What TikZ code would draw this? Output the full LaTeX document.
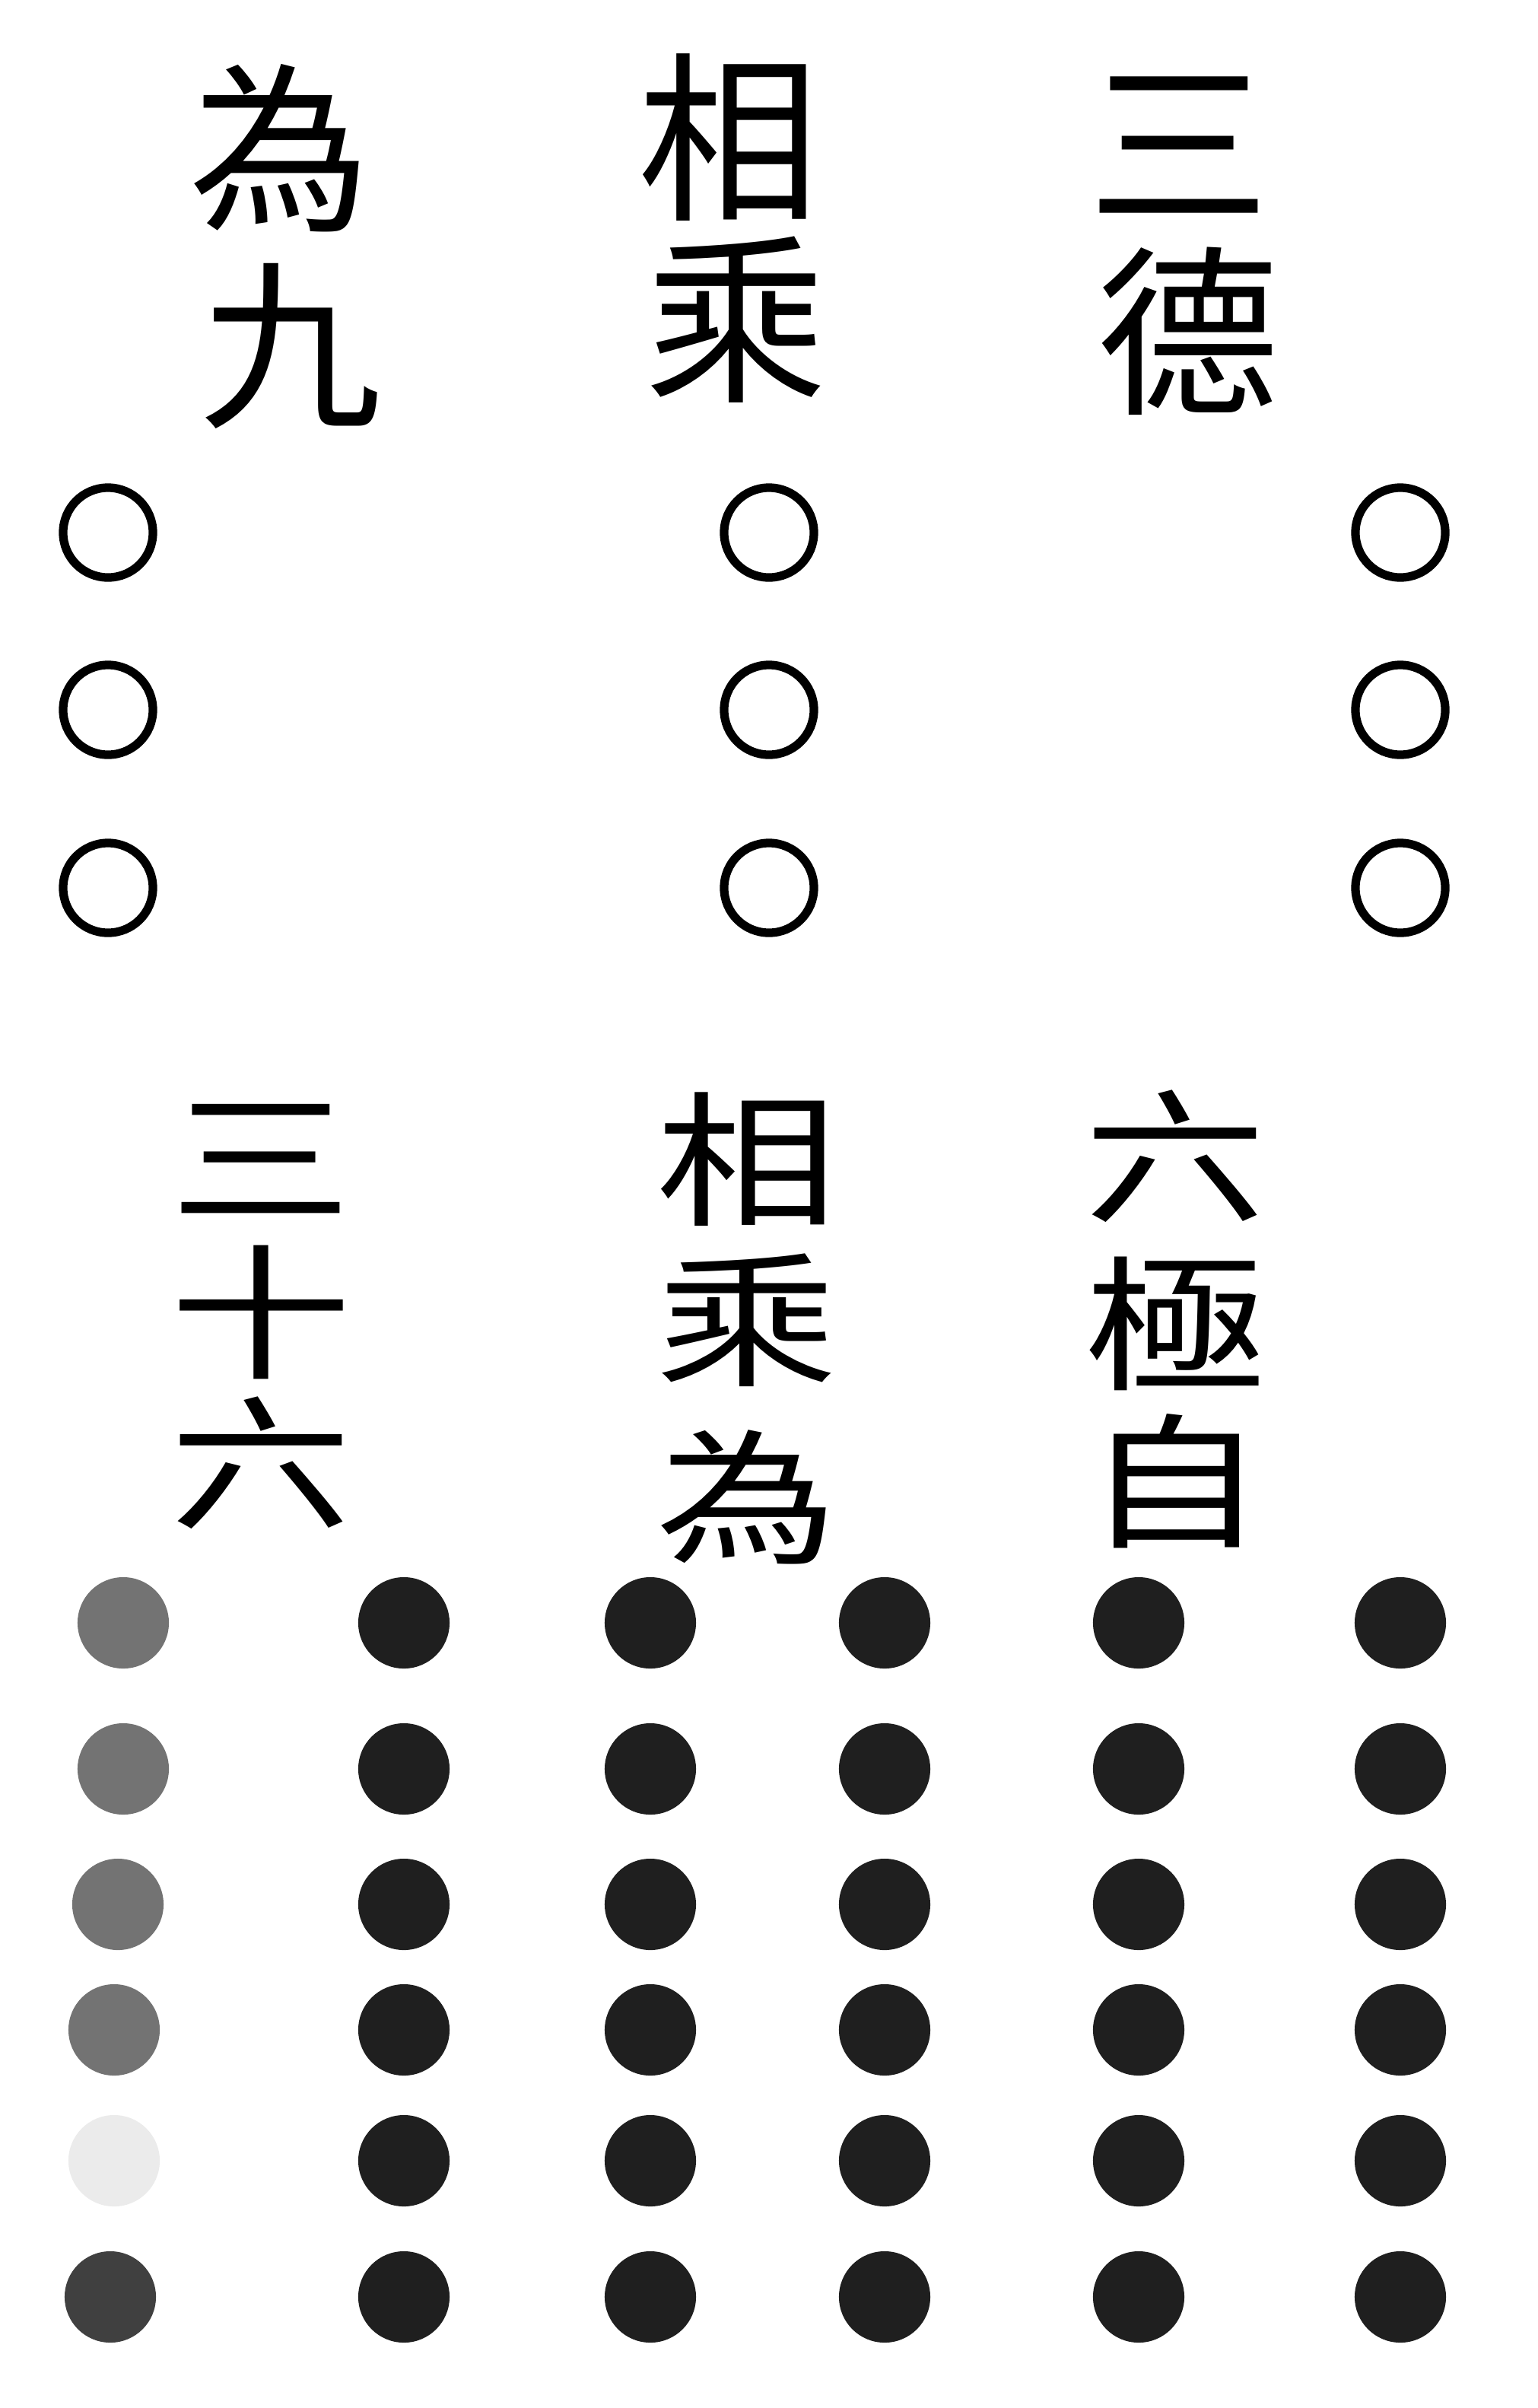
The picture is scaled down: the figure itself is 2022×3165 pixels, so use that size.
\documentclass[tikz,border=0pt]{standalone}
\usepackage{fontspec}
\newfontfamily\cjk{Noto Sans CJK TC}
\begin{document}
\begin{tikzpicture}[x=0.01cm,y=-0.01cm,
  glyph/.style={inner sep=0pt,font=\cjk\fontsize{68}{68}\selectfont},
  lowglyph/.style={glyph,yscale=0.8,transform shape},
  ring/.style={circle,draw=black,line width=3.2pt,minimum size=1.18cm,inner sep=0pt},
  dot/.style={circle,fill=black!88,minimum size=1.2cm,inner sep=0pt},
  faded/.style={dot,fill=black!55}]
\useasboundingbox[fill=white] (0,0) rectangle (2022,3165);
% top text (right to left)
\node[glyph] (a1) at (1550,190) {三};
\node[glyph] (a2) at (1562,435) {德};
\node[glyph] (b1) at (958,180) {相};
\node[glyph] (b2) at (968,420) {乘};
\node[glyph] (c1) at (368,195) {為};
\node[glyph] (c2) at (382,455) {九};
% open circles
\foreach \x/\n in {142/l,1011/m,1841/r}{
  \foreach \y/\k in {700/1,933/2,1167/3}{
    \node[ring] (o\n\k) at (\x,\y) {};
  }
}
% bottom text
\node[lowglyph] (d1) at (1545,1520) {六};
\node[lowglyph] (d2) at (1545,1740) {極};
\node[lowglyph] (d3) at (1545,1947) {自};
\node[lowglyph] (e1) at (982,1524) {相};
\node[lowglyph] (e2) at (982,1735) {乘};
\node[lowglyph] (e3) at (982,1968) {為};
\node[lowglyph] (f1) at (343,1523) {三};
\node[lowglyph] (f2) at (343,1725) {十};
\node[lowglyph] (f3) at (343,1923) {六};
% filled dots
\foreach \x/\n in {531/2,855/3,1163/4,1497/5,1841/6}{
  \foreach \y/\k in {2133/1,2325/2,2503/3,2668/4,2840/5,3019/6}{
    \node[dot] (p\n\k) at (\x,\y) {};
  }
}
\node[faded] (p11) at (162,2133) {};
\node[faded] (p12) at (162,2325) {};
\node[faded] (p13) at (155,2503) {};
\node[faded] (p14) at (150,2668) {};
\node[dot,fill=black!8] (p15) at (150,2840) {};
\node[dot,fill=black!75] (p16) at (145,3019) {};
\end{tikzpicture}
\end{document}
